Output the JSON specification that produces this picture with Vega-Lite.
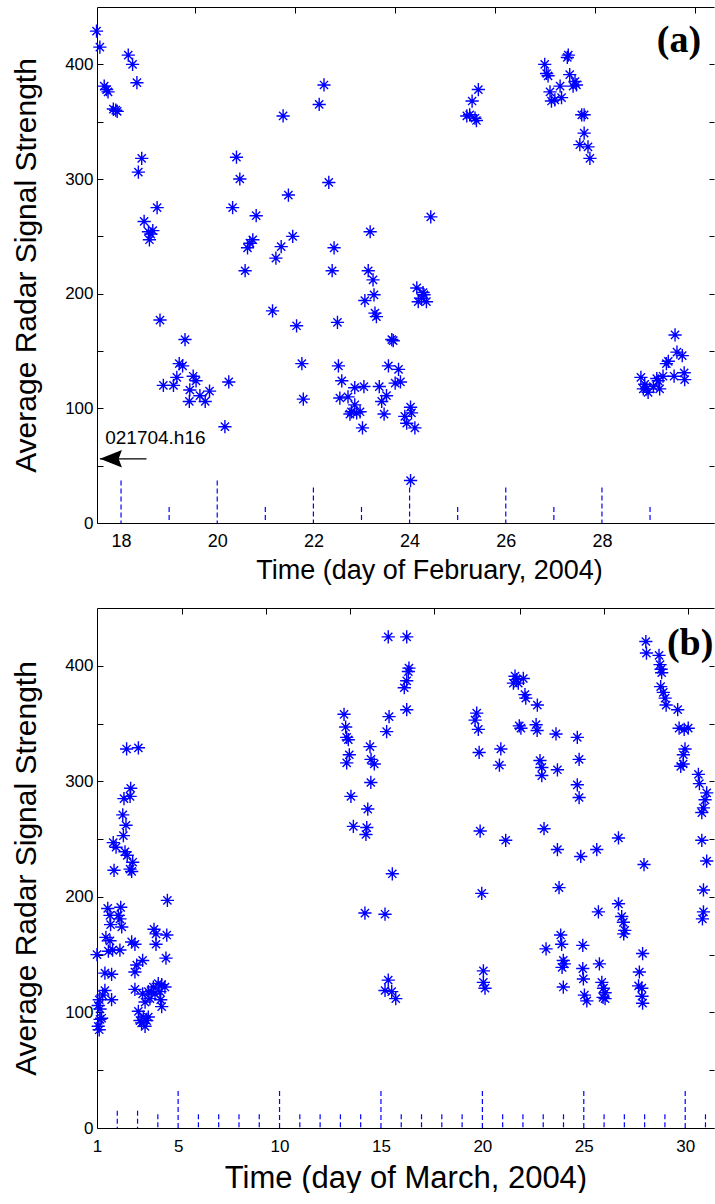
{
 "$schema": "https://vega.github.io/schema/vega-lite/v6.json",
 "background": "white",
 "padding": {"left": 11, "top": 6, "right": 0, "bottom": 0},
 "spacing": 24,
 "datasets": {
  "a_pts": [
   {"d":17.49,"v":429},{"d":17.56,"v":415},{"d":17.65,"v":381},{"d":17.7,"v":378},{"d":17.73,"v":376},{"d":17.84,"v":361},{"d":17.89,"v":360},{"d":17.92,"v":359},
   {"d":18.15,"v":408},{"d":18.24,"v":400},{"d":18.33,"v":384},{"d":18.43,"v":318},{"d":18.36,"v":306},{"d":18.48,"v":263},{"d":18.57,"v":254},{"d":18.62,"v":252},{"d":18.66,"v":255},{"d":18.59,"v":247},{"d":18.75,"v":275},
   {"d":18.81,"v":177},{"d":18.88,"v":120},{"d":19.09,"v":120},{"d":19.16,"v":127},{"d":19.21,"v":139},{"d":19.28,"v":137},{"d":19.33,"v":160},{"d":19.5,"v":128},{"d":19.56,"v":124},{"d":19.43,"v":116},{"d":19.42,"v":106},{"d":19.64,"v":111},{"d":19.75,"v":106},{"d":19.84,"v":115},
   {"d":20.24,"v":123},{"d":20.16,"v":84},{"d":20.32,"v":275},{"d":20.4,"v":319},{"d":20.47,"v":300},{"d":20.81,"v":268},{"d":20.63,"v":240},{"d":20.68,"v":244},{"d":20.74,"v":247},{"d":20.58,"v":220},
   {"d":21.15,"v":185},{"d":21.22,"v":231},{"d":21.33,"v":241},{"d":21.37,"v":355},{"d":21.48,"v":286},{"d":21.57,"v":250},{"d":21.65,"v":172},{"d":21.76,"v":139},{"d":21.79,"v":108},
   {"d":22.12,"v":365},{"d":22.22,"v":382},{"d":22.32,"v":297},{"d":22.43,"v":240},{"d":22.39,"v":220},{"d":22.5,"v":175},{"d":22.52,"v":137},{"d":22.59,"v":124},{"d":22.55,"v":109},{"d":22.72,"v":110},{"d":22.86,"v":118},{"d":22.86,"v":103},{"d":22.79,"v":97},{"d":22.9,"v":96},{"d":22.76,"v":95},{"d":22.97,"v":97},
   {"d":23.02,"v":83},{"d":23.05,"v":119},{"d":23.37,"v":119},{"d":23.14,"v":220},{"d":23.18,"v":254},{"d":23.24,"v":212},{"d":23.26,"v":199},{"d":23.07,"v":194},{"d":23.28,"v":183},{"d":23.31,"v":180},{"d":23.42,"v":106},{"d":23.47,"v":95},{"d":23.52,"v":111},{"d":23.56,"v":137},{"d":23.63,"v":160},{"d":23.66,"v":159},{"d":23.7,"v":122},{"d":23.77,"v":134},{"d":23.81,"v":123},{"d":23.9,"v":93},{"d":23.94,"v":87},
   {"d":24.02,"v":101},{"d":24.04,"v":96},{"d":24.11,"v":83},{"d":24.02,"v":37},{"d":24.15,"v":205},{"d":24.18,"v":193},{"d":24.25,"v":196},{"d":24.28,"v":201},{"d":24.35,"v":193},{"d":24.3,"v":199},{"d":24.44,"v":267},
   {"d":25.19,"v":355},{"d":25.25,"v":356},{"d":25.3,"v":368},{"d":25.36,"v":353},{"d":25.39,"v":351},{"d":25.43,"v":378},
   {"d":26.81,"v":400},{"d":26.85,"v":392},{"d":26.88,"v":390},{"d":26.92,"v":376},{"d":26.95,"v":368},{"d":27.02,"v":369},{"d":27.13,"v":381},{"d":27.16,"v":371},{"d":27.28,"v":406},{"d":27.3,"v":408},{"d":27.33,"v":391},{"d":27.4,"v":381},{"d":27.44,"v":385},{"d":27.47,"v":382},{"d":27.58,"v":356},{"d":27.63,"v":356},{"d":27.63,"v":340},{"d":27.54,"v":330},{"d":27.71,"v":328},{"d":27.75,"v":318},
   {"d":28.81,"v":127},{"d":28.86,"v":117},{"d":28.89,"v":121},{"d":28.93,"v":117},{"d":28.96,"v":114},{"d":29.07,"v":119},{"d":29.14,"v":126},{"d":29.17,"v":124},{"d":29.2,"v":117},{"d":29.27,"v":128},{"d":29.34,"v":139},{"d":29.38,"v":141},{"d":29.5,"v":128},{"d":29.52,"v":164},{"d":29.56,"v":149},{"d":29.67,"v":146},{"d":29.71,"v":131},{"d":29.72,"v":125}
  ],
  "b_pts": [
   {"d":1.0,"v":150},{"d":1.06,"v":106},{"d":1.06,"v":88},{"d":1.11,"v":111},{"d":1.11,"v":85},{"d":1.15,"v":103},{"d":1.15,"v":94},{"d":1.23,"v":95},{"d":1.28,"v":115},{"d":1.39,"v":119},{"d":1.39,"v":134},{"d":1.44,"v":165},{"d":1.53,"v":190},{"d":1.56,"v":153},{"d":1.64,"v":184},{"d":1.64,"v":162},{"d":1.67,"v":176},{"d":1.72,"v":133},{"d":1.72,"v":111},{"d":1.77,"v":154},{"d":1.8,"v":247},{"d":1.84,"v":223},{"d":1.94,"v":243},
   {"d":2.05,"v":184},{"d":2.13,"v":181},{"d":2.13,"v":154},{"d":2.17,"v":191},{"d":2.22,"v":174},{"d":2.27,"v":271},{"d":2.3,"v":253},{"d":2.33,"v":285},{"d":2.38,"v":239},{"d":2.43,"v":262},{"d":2.46,"v":328},{"d":2.49,"v":236},{"d":2.63,"v":224},{"d":2.63,"v":287},{"d":2.66,"v":294},{"d":2.71,"v":222},{"d":2.71,"v":161},{"d":2.76,"v":230},{"d":2.87,"v":159},{"d":2.87,"v":135},{"d":2.87,"v":120},{"d":2.96,"v":141},
   {"d":3.04,"v":329},{"d":3.04,"v":101},{"d":3.12,"v":93},{"d":3.2,"v":91},{"d":3.25,"v":145},{"d":3.25,"v":116},{"d":3.28,"v":96},{"d":3.37,"v":109},{"d":3.37,"v":88},{"d":3.45,"v":93},{"d":3.53,"v":118},{"d":3.53,"v":96},{"d":3.61,"v":112},{"d":3.69,"v":118},{"d":3.78,"v":122},{"d":3.81,"v":172},{"d":3.86,"v":116},{"d":3.91,"v":168},{"d":3.91,"v":159},
   {"d":4.02,"v":125},{"d":4.1,"v":118},{"d":4.14,"v":111},{"d":4.19,"v":124},{"d":4.19,"v":105},{"d":4.35,"v":122},{"d":4.4,"v":147},{"d":4.44,"v":167},{"d":4.47,"v":197},
   {"d":13.18,"v":358},{"d":13.26,"v":347},{"d":13.31,"v":338},{"d":13.39,"v":336},{"d":13.44,"v":323},{"d":13.31,"v":316},{"d":13.52,"v":287},{"d":13.64,"v":261},
   {"d":14.21,"v":186},{"d":14.3,"v":260},{"d":14.26,"v":254},{"d":14.35,"v":276},{"d":14.46,"v":330},{"d":14.51,"v":319},{"d":14.67,"v":315},{"d":14.5,"v":299},
   {"d":15.2,"v":185},{"d":15.28,"v":343},{"d":15.36,"v":425},{"d":15.4,"v":356},{"d":15.36,"v":128},{"d":15.2,"v":119},{"d":15.53,"v":118},{"d":15.73,"v":112},{"d":15.56,"v":220},
   {"d":16.15,"v":381},{"d":16.27,"v":387},{"d":16.27,"v":425},{"d":16.27,"v":362},{"d":16.35,"v":395},{"d":16.38,"v":398},
   {"d":19.64,"v":353},{"d":19.72,"v":359},{"d":19.8,"v":345},{"d":19.84,"v":325},{"d":19.89,"v":257},{"d":19.97,"v":203},{"d":20.05,"v":136},{"d":20.05,"v":126},{"d":20.13,"v":121},
   {"d":20.91,"v":328},{"d":20.84,"v":314},{"d":21.15,"v":249},{"d":21.53,"v":385},{"d":21.61,"v":391},{"d":21.69,"v":388},{"d":21.77,"v":385},{"d":22.02,"v":389},{"d":22.1,"v":375},{"d":22.14,"v":372},{"d":22.71,"v":366},{"d":21.82,"v":348},{"d":21.9,"v":346},{"d":22.65,"v":349},{"d":22.7,"v":344},{"d":22.84,"v":318},{"d":22.93,"v":312},{"d":22.93,"v":305},
   {"d":23.04,"v":259},{"d":23.14,"v":155},{"d":23.63,"v":341},{"d":23.7,"v":310},{"d":23.7,"v":241},{"d":23.78,"v":208},{"d":23.86,"v":167},{"d":23.91,"v":159},{"d":23.99,"v":145},{"d":24.04,"v":142},{"d":23.93,"v":139},{"d":23.99,"v":122},
   {"d":24.68,"v":338},{"d":24.77,"v":319},{"d":24.68,"v":297},{"d":24.77,"v":286},{"d":24.85,"v":235},{"d":24.95,"v":158},{"d":24.95,"v":138},{"d":24.98,"v":129},{"d":25.03,"v":115},{"d":25.15,"v":110},
   {"d":25.64,"v":241},{"d":25.72,"v":187},{"d":25.77,"v":142},{"d":25.89,"v":126},{"d":25.97,"v":121},{"d":26.05,"v":117},{"d":25.95,"v":113},{"d":26.05,"v":112},
   {"d":26.71,"v":251},{"d":26.71,"v":194},{"d":26.87,"v":183},{"d":26.95,"v":178},{"d":27.02,"v":171},{"d":26.97,"v":168},{"d":27.74,"v":135},{"d":27.7,"v":123},{"d":27.86,"v":121},{"d":27.87,"v":114},{"d":27.9,"v":108},{"d":27.9,"v":151},{"d":27.97,"v":228},
   {"d":28.06,"v":421},{"d":28.09,"v":411},{"d":28.71,"v":409},{"d":28.76,"v":401},{"d":28.84,"v":394},{"d":28.81,"v":397},{"d":28.79,"v":382},{"d":28.92,"v":377},{"d":29.01,"v":372},{"d":29.06,"v":366},
   {"d":29.63,"v":362},{"d":29.7,"v":346},{"d":29.95,"v":345},{"d":30.15,"v":346},{"d":29.99,"v":328},{"d":29.91,"v":323},{"d":29.9,"v":315},{"d":29.78,"v":313},
   {"d":30.65,"v":306},{"d":30.7,"v":298},{"d":31.06,"v":290},{"d":30.98,"v":284},{"d":30.9,"v":277},{"d":30.82,"v":273},{"d":30.82,"v":249},{"d":31.06,"v":231},{"d":30.9,"v":206},{"d":30.9,"v":187},{"d":30.85,"v":181}
  ],
  "a_days": [
   {"d":18,"h":37},{"d":19,"h":14},{"d":20,"h":37},{"d":21,"h":14},{"d":22,"h":31},{"d":23,"h":14},{"d":24,"h":31},{"d":25,"h":14},{"d":26,"h":31},{"d":27,"h":14},{"d":28,"h":31},{"d":29,"h":14}
  ],
  "b_days": [
   {"d":2,"h":15},{"d":3,"h":15},{"d":4,"h":12},{"d":5,"h":32},{"d":6,"h":12},{"d":7,"h":12},{"d":8,"h":12},{"d":9,"h":12},{"d":10,"h":32},
   {"d":11,"h":12},{"d":12,"h":12},{"d":13,"h":12},{"d":14,"h":12},{"d":15,"h":32},{"d":16,"h":12},{"d":17,"h":12},{"d":18,"h":12},{"d":19,"h":12},{"d":20,"h":32},
   {"d":21,"h":12},{"d":22,"h":12},{"d":23,"h":12},{"d":24,"h":12},{"d":25,"h":32},{"d":26,"h":12},{"d":27,"h":12},{"d":28,"h":12},{"d":29,"h":12},{"d":30,"h":32},{"d":31,"h":12}
  ],
  "a_arrow": [{"d1":17.56,"d2":18.53,"v":56}],
  "a_head": [{"d":17.79,"v":56}],
  "a_note": [{"d":17.67,"v":68.6,"t":"021704.h16"}],
  "a_tag": [{"d":29.14,"v":411,"t":"(a)"}],
  "b_tag": [{"d":29.1,"v":409.5,"t":"(b)"}]
 },
 "vconcat": [
  {
   "width": 617,
   "height": 516,
   "resolve": {"axis": {"x": "independent", "y": "independent"}},
   "layer": [
    {
     "data": {"name": "a_days"},
     "mark": {"type": "rule", "color": "#0000ff", "strokeDash": [5, 3], "strokeWidth": 1.2},
     "encoding": {
      "x": {"field": "d", "type": "quantitative", "scale": {"domain": [17.5, 30.33], "nice": false, "zero": false},
            "axis": {"orient": "top", "values": [19.54, 21.62, 23.7, 25.78, 27.86, 29.94], "labels": false, "tickSize": -6, "title": null, "domain": true}},
      "y": {"field": "h", "type": "quantitative", "scale": {"domain": [0, 450], "nice": false},
            "axis": {"orient": "right", "values": [0, 50, 100, 150, 200, 250, 300, 350, 400], "labels": false, "tickSize": -5, "domain": false, "title": null}},
      "y2": {"datum": 0}
     }
    },
    {
     "data": {"name": "a_pts"},
     "mark": {"type": "point", "shape": "M-1,0L1,0M0,-1L0,1M-0.62,-0.62L0.62,0.62M-0.62,0.62L0.62,-0.62", "filled": false, "stroke": "#0000ff", "strokeWidth": 1.4, "size": 175, "opacity": 1},
     "encoding": {
      "x": {"field": "d", "type": "quantitative", "scale": {"domain": [17.5, 30.33], "nice": false, "zero": false},
            "axis": {"orient": "bottom", "values": [18, 20, 22, 24, 26, 28], "ticks": false, "labelPadding": 9, "labelFontSize": 18, "labelFlush": false, "labelOverlap": false,
                     "title": "Time (day of February, 2004)", "titleFontSize": 27, "titlePadding": 7, "titleX": 332}},
      "y": {"field": "v", "type": "quantitative", "scale": {"domain": [0, 450], "nice": false},
            "axis": {"orient": "left", "values": [0, 50, 100, 150, 200, 250, 300, 350, 400], "labelExpr": "datum.value % 100 === 0 ? datum.label : ''",
                     "tickSize": -6, "labelPadding": 10, "labelFontSize": 17, "labelOverlap": false,
                     "title": "Average Radar Signal Strength", "titleFontSize": 30, "titlePadding": 23}}
     }
    },
    {
     "data": {"name": "a_arrow"},
     "mark": {"type": "rule", "color": "#000000", "strokeWidth": 1.3},
     "encoding": {
      "x": {"field": "d1", "type": "quantitative", "scale": {"domain": [17.5, 30.33], "nice": false, "zero": false}, "axis": null},
      "x2": {"field": "d2"},
      "y": {"field": "v", "type": "quantitative", "scale": {"domain": [0, 450], "nice": false}, "axis": null}
     }
    },
    {
     "data": {"name": "a_head"},
     "mark": {"type": "point", "shape": "M-1,0L1,-0.8L0.7,0L1,0.8Z", "filled": true, "fill": "#000000", "strokeWidth": 0, "size": 484, "opacity": 1},
     "encoding": {
      "x": {"field": "d", "type": "quantitative", "scale": {"domain": [17.5, 30.33], "nice": false, "zero": false}, "axis": null},
      "y": {"field": "v", "type": "quantitative", "scale": {"domain": [0, 450], "nice": false}, "axis": null}
     }
    },
    {
     "data": {"name": "a_note"},
     "mark": {"type": "text", "font": "Liberation Sans", "fontSize": 19, "align": "left", "baseline": "alphabetic", "color": "#000000"},
     "encoding": {
      "x": {"field": "d", "type": "quantitative", "scale": {"domain": [17.5, 30.33], "nice": false, "zero": false}, "axis": null},
      "y": {"field": "v", "type": "quantitative", "scale": {"domain": [0, 450], "nice": false}, "axis": null},
      "text": {"field": "t"}
     }
    },
    {
     "data": {"name": "a_tag"},
     "mark": {"type": "text", "font": "Liberation Serif", "fontWeight": "bold", "fontSize": 38, "align": "left", "baseline": "alphabetic", "color": "#000000"},
     "encoding": {
      "x": {"field": "d", "type": "quantitative", "scale": {"domain": [17.5, 30.33], "nice": false, "zero": false}, "axis": null},
      "y": {"field": "v", "type": "quantitative", "scale": {"domain": [0, 450], "nice": false}, "axis": null},
      "text": {"field": "t"}
     }
    }
   ]
  },
  {
   "width": 617,
   "height": 520,
   "resolve": {"axis": {"x": "independent", "y": "independent"}},
   "layer": [
    {
     "data": {"name": "b_days"},
     "mark": {"type": "rule", "color": "#0000ff", "strokeDash": [5, 3], "strokeWidth": 1.2},
     "encoding": {
      "x": {"field": "d", "type": "quantitative", "scale": {"domain": [1, 31.42], "nice": false, "zero": false},
            "axis": {"orient": "top", "values": [5.18, 9.33, 13.48, 17.63, 21.86, 26.01, 30.16], "labels": false, "tickSize": -6, "title": null, "domain": true}},
      "y": {"field": "h", "type": "quantitative", "scale": {"domain": [0, 450], "nice": false},
            "axis": {"orient": "right", "values": [0, 50, 100, 150, 200, 250, 300, 350, 400], "labels": false, "tickSize": -5, "domain": false, "title": null}},
      "y2": {"datum": 0}
     }
    },
    {
     "data": {"name": "b_pts"},
     "mark": {"type": "point", "shape": "M-1,0L1,0M0,-1L0,1M-0.62,-0.62L0.62,0.62M-0.62,0.62L0.62,-0.62", "filled": false, "stroke": "#0000ff", "strokeWidth": 1.4, "size": 175, "opacity": 1},
     "encoding": {
      "x": {"field": "d", "type": "quantitative", "scale": {"domain": [1, 31.42], "nice": false, "zero": false},
            "axis": {"orient": "bottom", "values": [1, 5, 10, 15, 20, 25, 30], "ticks": false, "labelPadding": 10, "labelFontSize": 17, "labelFlush": false, "labelOverlap": false,
                     "title": "Time (day of March, 2004)", "titleFontSize": 31, "titlePadding": 9}},
      "y": {"field": "v", "type": "quantitative", "scale": {"domain": [0, 450], "nice": false},
            "axis": {"orient": "left", "values": [0, 50, 100, 150, 200, 250, 300, 350, 400], "labelExpr": "datum.value % 100 === 0 ? datum.label : ''",
                     "tickSize": -6, "labelPadding": 10, "labelFontSize": 17, "labelOverlap": false,
                     "title": "Average Radar Signal Strength", "titleFontSize": 30, "titlePadding": 23}}
     }
    },
    {
     "data": {"name": "b_tag"},
     "mark": {"type": "text", "font": "Liberation Serif", "fontWeight": "bold", "fontSize": 38, "align": "left", "baseline": "alphabetic", "color": "#000000"},
     "encoding": {
      "x": {"field": "d", "type": "quantitative", "scale": {"domain": [1, 31.42], "nice": false, "zero": false}, "axis": null},
      "y": {"field": "v", "type": "quantitative", "scale": {"domain": [0, 450], "nice": false}, "axis": null},
      "text": {"field": "t"}
     }
    }
   ]
  }
 ],
 "config": {
  "view": {"stroke": null},
  "axis": {"grid": false, "domainColor": "#000000", "domainWidth": 1, "tickColor": "#000000", "tickWidth": 1, "labelColor": "#000000", "titleColor": "#000000",
           "labelFont": "Liberation Sans", "titleFont": "Liberation Sans", "titleFontWeight": "normal"}
 }
}
